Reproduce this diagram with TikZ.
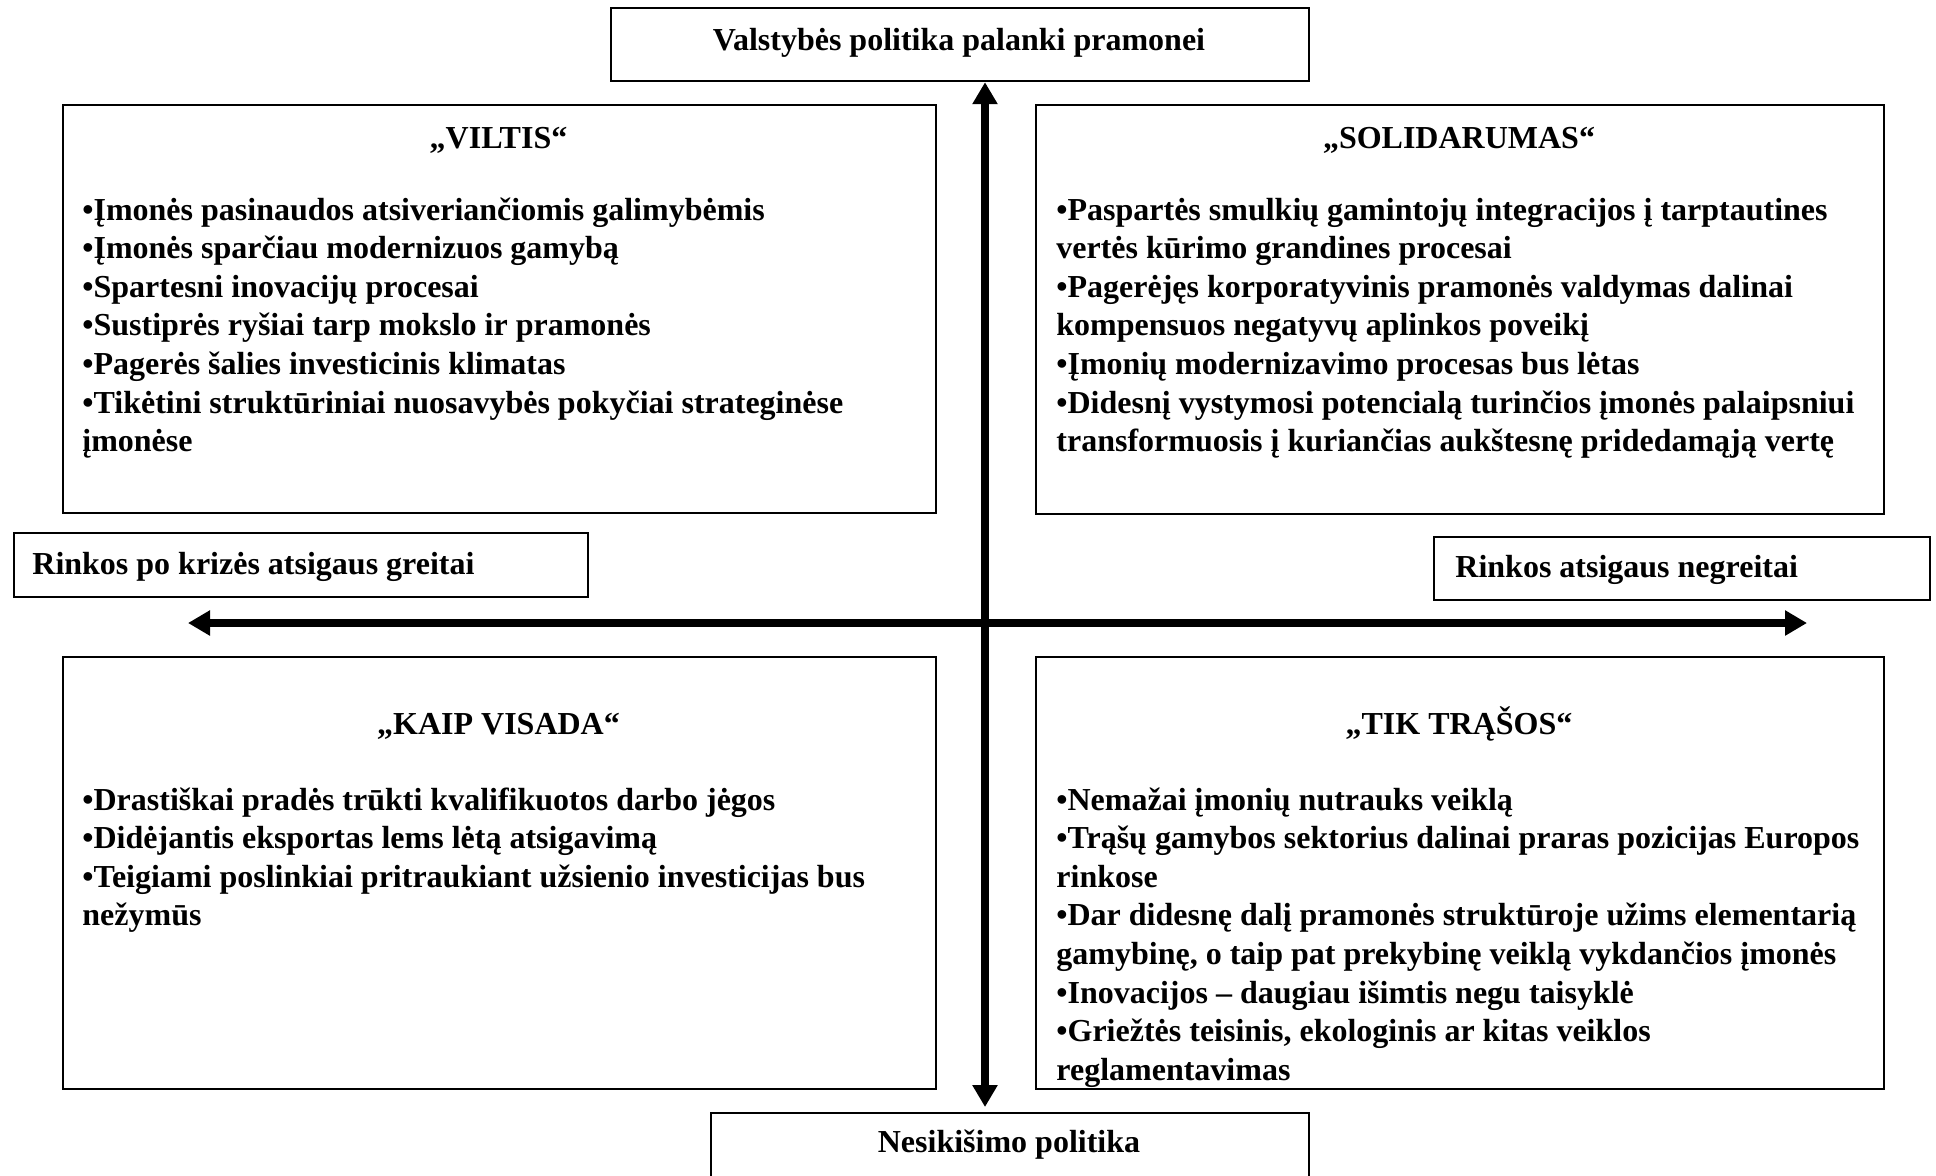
\documentclass[tikz,border=0pt]{standalone}
\usepackage{fontspec}
\setmainfont{Liberation Serif}
\usetikzlibrary{arrows.meta,calc}
\begin{document}
\begin{tikzpicture}[x=0.5pt,y=-0.5pt,
  box/.style={draw=black, line width=1.1pt, inner sep=0pt, anchor=north west},
  txt/.style={inner sep=0pt, font=\fontsize{16}{19.3}\selectfont\bfseries},
  body/.style={txt, anchor=base west},
  axisarrow/.style={line width=4pt, {Triangle[length=11pt,width=12pt]}-{Triangle[length=11pt,width=12pt]}}]
\useasboundingbox (0,0) rectangle (1936,1175);
\fill[white] (0,0) rectangle (1936,1175);

% frames
\node[box, minimum width=349pt, minimum height=36.5pt] (top) at (610,7) {};
\node[box, minimum width=436.5pt, minimum height=204pt] (viltis) at (62,104) {};
\node[box, minimum width=424pt, minimum height=204.5pt] (solid) at (1035,104) {};
\node[box, minimum width=436.5pt, minimum height=216pt] (kaip) at (62,656) {};
\node[box, minimum width=424pt, minimum height=216pt] (tik) at (1035,656) {};
\node[box, minimum width=287pt, minimum height=32pt] (left) at (13,532) {};
\node[box, minimum width=248pt, minimum height=31.5pt] (right) at (1433,536) {};
\node[box, minimum width=299pt, minimum height=40pt] (bottom) at (710,1112) {};

% axis labels
\node[txt, anchor=base] (topT) at (959,50) {Valstybės politika palanki pramonei};
\node[txt, anchor=base] (bottomT) at (1009,1152) {Nesikišimo politika};
\node[body] (leftT) at (32,574) {Rinkos po krizės atsigaus greitai};
\node[body] (rightT) at (1455,577) {Rinkos atsigaus negreitai};

% titles
\node[txt, anchor=base] (viltisT) at (498.5,148) {„VILTIS“};
\node[txt, anchor=base] (solidT) at (1459,148) {„SOLIDARUMAS“};
\node[txt, anchor=base] (kaipT) at (498.5,734) {„KAIP VISADA“};
\node[txt, anchor=base] (tikT) at (1459,734) {„TIK TRĄŠOS“};

% bodies
\node[body] (viltisB) at (82,220) {\parbox[t]{430pt}{\raggedright
•Įmonės pasinaudos atsiveriančiomis galimybėmis\\
•Įmonės sparčiau modernizuos gamybą\\
•Spartesni inovacijų procesai\\
•Sustiprės ryšiai tarp mokslo ir pramonės\\
•Pagerės šalies investicinis klimatas\\
•Tikėtini struktūriniai nuosavybės pokyčiai strateginėse\\
įmonėse}};
\node[body] (solidB) at (1056,220) {\parbox[t]{430pt}{\raggedright
•Paspartės smulkių gamintojų integracijos į tarptautines\\
vertės kūrimo grandines procesai\\
•Pagerėjęs korporatyvinis pramonės valdymas dalinai\\
kompensuos negatyvų aplinkos poveikį\\
•Įmonių modernizavimo procesas bus lėtas\\
•Didesnį vystymosi potencialą turinčios įmonės palaipsniui\\
transformuosis į kuriančias aukštesnę pridedamąją vertę}};
\node[body] (kaipB) at (82,810) {\parbox[t]{430pt}{\raggedright
•Drastiškai pradės trūkti kvalifikuotos darbo jėgos\\
•Didėjantis eksportas lems lėtą atsigavimą\\
•Teigiami poslinkiai pritraukiant užsienio investicijas bus\\
nežymūs}};
\node[body] (tikB) at (1056,810) {\parbox[t]{430pt}{\raggedright
•Nemažai įmonių nutrauks veiklą\\
•Trąšų gamybos sektorius dalinai praras pozicijas Europos\\
rinkose\\
•Dar didesnę dalį pramonės struktūroje užims elementarią\\
gamybinę, o taip pat prekybinę veiklą vykdančios įmonės\\
•Inovacijos – daugiau išimtis negu taisyklė\\
•Griežtės teisinis, ekologinis ar kitas veiklos\\
reglamentavimas}};

% axes
\coordinate (hl) at (188,623);
\coordinate (hr) at (1807,623);
\coordinate (vx) at (985,623);
\draw[axisarrow] (hl) -- (hr);
\draw[axisarrow] (vx |- top.south) -- ($(vx |- bottom.north)+(0,-5)$);
\end{tikzpicture}
\end{document}
